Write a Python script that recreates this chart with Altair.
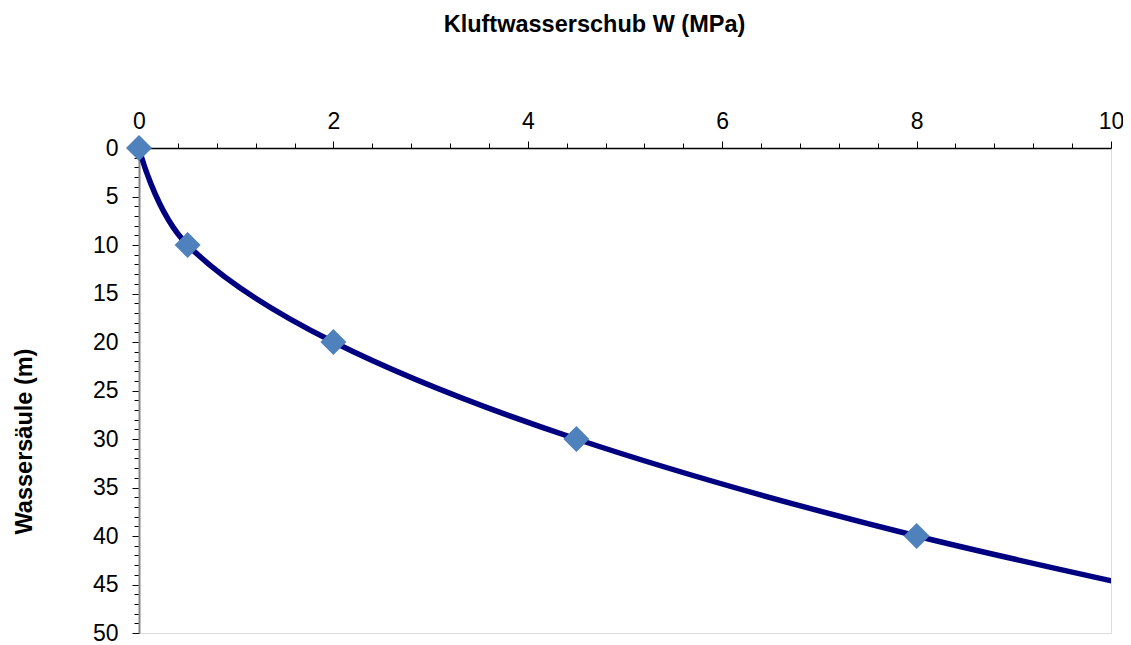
import altair as alt
import pandas as pd

# Data
W_mpa = [0, 0.5, 2, 4.5, 8, 12.5]
H_m = [0, 10, 20, 30, 40, 50]

x_ticks = [round(i * 0.4, 1) for i in range(26)]
y_ticks = list(range(0, 51))

df = pd.DataFrame({"W": W_mpa, "H": H_m})

FONT = "Liberation Sans"

x_major = "abs(datum.value - round(datum.value/2)*2) < 0.001"
y_major = "datum.value % 5 == 0"

x_axis = alt.Axis(
    orient="top",
    title="Kluftwasserschub W (MPa)",
    values=x_ticks,
    labelExpr=f"({x_major}) ? format(datum.value, 'd') : ''",
    tickSize={"condition": {"test": x_major, "value": 7}, "value": 5},
    tickColor="#000000",
    domainColor="#000000",
    domainWidth=1.5,
    tickWidth=1,
    labelFont=FONT,
    labelFontSize=23,
    labelColor="#000000",
    labelPadding=8,
    labelFlush=False,
    labelOverlap=False,
    titleFont=FONT,
    titleFontSize=23.5,
    titleFontWeight="bold",
    titleColor="#000000",
    titleX=455,
    titleY=-124,
    titleBaseline="middle",
    titleAlign="center",
    grid=False,
)

y_axis = alt.Axis(
    orient="left",
    title="Wassersäule (m)",
    values=y_ticks,
    labelExpr=f"({y_major}) ? format(datum.value, 'd') : ''",
    tickSize={"condition": {"test": y_major, "value": 7}, "value": 5},
    tickColor="#000000",
    domainColor="#868686",
    domainWidth=2,
    tickWidth=1,
    labelFont=FONT,
    labelFontSize=23,
    labelColor="#000000",
    labelPadding=14,
    labelFlush=False,
    labelOverlap=False,
    titleFont=FONT,
    titleFontSize=23.5,
    titleFontWeight="bold",
    titleColor="#000000",
    titleX=-115,
    titleY=293,
    titleAngle=-90,
    titleBaseline="middle",
    titleAlign="center",
    grid=False,
)

x_scale = alt.Scale(domain=[0, 10], nice=False, zero=False)
y_scale = alt.Scale(domain=[0, 50], nice=False, zero=False, reverse=True)

x_enc = alt.X("W:Q", scale=x_scale, axis=x_axis)
y_enc = alt.Y("H:Q", scale=y_scale, axis=y_axis)

line = alt.Chart(df).mark_line(
    color="#000080", strokeWidth=5.5, interpolate="cardinal", tension=0, clip=True
).encode(x=x_enc, y=y_enc, order=alt.Order("H:Q"))

points = alt.Chart(df).transform_filter("datum.W <= 10").mark_point(
    shape="diamond", filled=True, size=676, color="#4F81BD", opacity=1
).encode(x=x_enc, y=y_enc)

chart = alt.layer(line, points).properties(
    width=972,
    height=485,
    autosize=alt.AutoSizeParams(type="none"),
    padding={"left": 131, "top": 140, "right": 12, "bottom": 10},
).configure_view(stroke=None).configure(background="white")

chart.save("out.html", embed_options={"renderer": "svg", "actions": False})
